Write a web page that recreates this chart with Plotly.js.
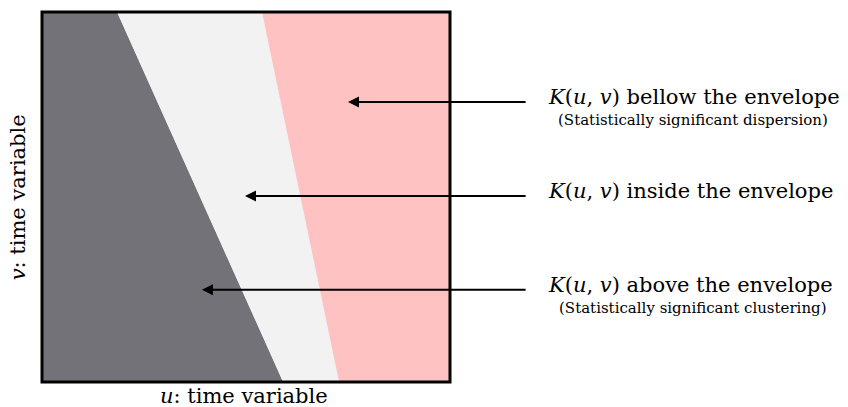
<!DOCTYPE html>
<html>
<head>
<meta charset="utf-8">
<script src="https://cdn.plot.ly/plotly-3.0.1.min.js"></script>
<style>html,body{margin:0;padding:0;background:#fff;}#chart{width:848px;height:407px;}</style>
</head>
<body>
<div id="chart"></div>
<script>
// Region boundaries (u position at bottom v=0 and at top v=1)
const darkBoundaryU = [0.591, 0.184];   // [at v=0, at v=1]
const pinkBoundaryU = [0.728, 0.539];
const regionNames = ["above", "inside", "bellow"];
const regionColors = ["#737279", "#f2f2f2", "#ffc2c2"];

// Arrow targets (u, v) and tails
const arrowTipU = [0.75, 0.4975, 0.392];
const arrowTipV = [0.757, 0.503, 0.249];
const arrowTailU = 1.189;

const labelMain = [
  "<i>K</i>(<i>u</i>, <i>v</i>) bellow the envelope",
  "<i>K</i>(<i>u</i>, <i>v</i>) inside the envelope",
  "<i>K</i>(<i>u</i>, <i>v</i>) above the envelope"
];
const labelSub = [
  "(Statistically significant dispersion)",
  "",
  "(Statistically significant clustering)"
];

const traces = [
  { // dark: above envelope
    x: [0, darkBoundaryU[1], darkBoundaryU[0], 0, 0],
    y: [1, 1, 0, 0, 1]
  },
  { // light: inside
    x: [darkBoundaryU[1], pinkBoundaryU[1], pinkBoundaryU[0], darkBoundaryU[0], darkBoundaryU[1]],
    y: [1, 1, 0, 0, 1]
  },
  { // pink: bellow
    x: [pinkBoundaryU[1], 1, 1, pinkBoundaryU[0], pinkBoundaryU[1]],
    y: [1, 1, 0, 0, 1]
  }
].map((t, i) => ({
  x: t.x, y: t.y, type: "scatter", mode: "lines", fill: "toself",
  fillcolor: regionColors[i], line: {width: 0, color: regionColors[i]},
  name: regionNames[i], hoverinfo: "skip", showlegend: false
}));

const font = "DejaVu Serif, Liberation Serif, serif";
const annotations = [];
for (let i = 0; i < 3; i++) {
  annotations.push({
    x: arrowTipU[i], y: arrowTipV[i], xref: "paper", yref: "paper",
    ax: arrowTailU, ay: arrowTipV[i], axref: "paper", ayref: "paper",
    showarrow: true, arrowhead: 2, arrowsize: 1.1, arrowwidth: 2, arrowcolor: "#000",
    text: ""
  });
  annotations.push({
    x: 1.235, y: arrowTipV[i] + 0.012, xref: "paper", yref: "paper",
    xanchor: "left", yanchor: "middle", showarrow: false,
    text: labelMain[i], font: {family: font, size: 21, color: "#000"}
  });
  if (labelSub[i]) {
    annotations.push({
      x: 1.596, y: arrowTipV[i] - 0.05, xref: "paper", yref: "paper",
      xanchor: "center", yanchor: "middle", showarrow: false,
      text: labelSub[i], font: {family: font, size: 15, color: "#000"}
    });
  }
}
annotations.push({
  x: 0.495, y: -0.038, xref: "paper", yref: "paper", xanchor: "center", yanchor: "middle",
  showarrow: false, text: "<i>u</i>: time variable", font: {family: font, size: 21, color: "#000"}
});
annotations.push({
  x: -0.058, y: 0.5, xref: "paper", yref: "paper", xanchor: "center", yanchor: "middle",
  showarrow: false, textangle: -90, text: "<i>v</i>: time variable",
  font: {family: font, size: 21, color: "#000"}
});

const layout = {
  width: 848, height: 407,
  margin: {l: 42, r: 398, t: 12, b: 25},
  paper_bgcolor: "#fff", plot_bgcolor: "#fff",
  xaxis: {range: [0, 1], showgrid: false, zeroline: false, showticklabels: false, ticks: "", fixedrange: true},
  yaxis: {range: [0, 1], showgrid: false, zeroline: false, showticklabels: false, ticks: "", fixedrange: true},
  shapes: [{type: "rect", xref: "paper", yref: "paper", x0: 0, x1: 1, y0: 0, y1: 1,
            line: {color: "#000", width: 3}, fillcolor: "rgba(0,0,0,0)", layer: "above"}],
  annotations: annotations,
  showlegend: false
};

Plotly.newPlot("chart", traces, layout, {staticPlot: true, displayModeBar: false});
</script>
</body>
</html>
